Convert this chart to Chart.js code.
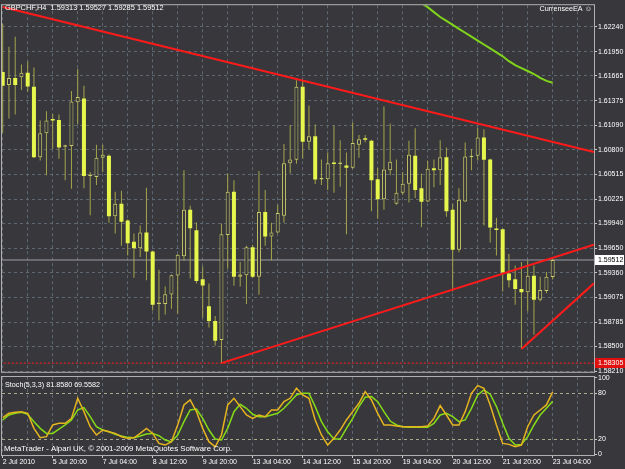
<!DOCTYPE html>
<html><head><meta charset="utf-8">
<script src="https://cdn.jsdelivr.net/npm/chart.js@4.4.0/dist/chart.umd.min.js"></script>
<style>
html,body{margin:0;padding:0;background:#38383c;}
body{width:625px;height:469px;position:relative;overflow:hidden;}
canvas{position:absolute;left:0;}
#main{top:0;}
#stoch{top:366px;}
</style></head><body>
<canvas id="main" width="625" height="377"></canvas>
<canvas id="stoch" width="625" height="103"></canvas>
<script>
const symbol = 'GBPCHF,H4';
const timeLabels = ['2 Jul 2010','5 Jul 20:00','7 Jul 04:00','8 Jul 12:00','9 Jul 20:00','13 Jul 04:00','14 Jul 12:00','15 Jul 20:00','19 Jul 04:00','20 Jul 12:00','21 Jul 20:00','23 Jul 04:00'];
const opens = [1.61711,1.61558,1.61642,1.61650,1.61703,1.61538,1.60714,1.60995,1.61151,1.61151,
1.60837,1.60845,1.61358,1.61400,1.60495,1.60484,1.60707,1.60733,1.60024,1.60170,
1.59974,1.59725,1.59649,1.59833,1.59610,1.58997,1.58997,1.59107,1.59330,1.59555,
1.60101,1.59859,1.59288,1.58971,1.58798,1.58575,1.59805,1.60311,1.59316,1.59334,
1.59661,1.59316,1.60075,1.59787,1.59833,1.60029,1.60645,1.60684,1.61538,1.60894,
1.60960,1.60454,1.60458,1.60645,1.60634,1.60619,1.60592,1.60860,1.60926,1.60906,
1.60458,1.60224,1.60561,1.60170,1.60300,1.60403,1.60733,1.60351,1.60197,1.60584,
1.60561,1.60714,1.60101,1.59633,1.60197,1.60714,1.60733,1.60944,1.60687,1.59879,
1.59871,1.59353,1.59288,1.59173,1.59135,1.59327,1.59046,1.59150,1.59313];
const highs = [1.62278,1.62007,1.62125,1.61800,1.61834,1.61765,1.61144,1.61251,1.61220,1.61213,
1.60860,1.61489,1.61749,1.61550,1.60541,1.60860,1.60860,1.60745,1.60311,1.60323,
1.59986,1.59822,1.59917,1.60357,1.59622,1.59399,1.59201,1.59342,1.59580,1.60561,
1.60147,1.59955,1.59440,1.59238,1.58856,1.59940,1.60523,1.60446,1.59488,1.59679,
1.59690,1.60553,1.60331,1.59948,1.60158,1.60868,1.61090,1.61616,1.61616,1.61320,
1.61098,1.60687,1.60771,1.61086,1.60914,1.60771,1.61124,1.60975,1.60975,1.60918,
1.60592,1.61308,1.61110,1.60687,1.60541,1.60906,1.61052,1.60523,1.60676,1.60687,
1.60914,1.60829,1.60170,1.60351,1.60886,1.60811,1.61059,1.61041,1.60696,1.60006,
1.59880,1.59583,1.59449,1.59488,1.59506,1.59449,1.59316,1.59373,1.59527];
const lows = [1.61001,1.61167,1.61213,1.61501,1.61481,1.60705,1.60676,1.60503,1.60811,1.60696,
1.60446,1.60346,1.61098,1.60351,1.60035,1.60388,1.60541,1.59948,1.59822,1.59679,
1.59564,1.59304,1.59546,1.59276,1.58920,1.58805,1.58874,1.58943,1.58882,1.59503,
1.59296,1.59238,1.58836,1.58721,1.58511,1.58305,1.59411,1.59212,1.59201,1.58997,
1.59300,1.59104,1.59679,1.59506,1.59825,1.59948,1.60523,1.60638,1.60696,1.60811,
1.60400,1.60388,1.60331,1.60300,1.60369,1.59813,1.60581,1.60707,1.60890,1.60081,
1.59994,1.60101,1.60503,1.60158,1.60273,1.60185,1.60236,1.59894,1.60190,1.60362,
1.60388,1.60017,1.59143,1.59603,1.60190,1.60561,1.60676,1.59917,1.59718,1.59564,
1.59143,1.59189,1.58989,1.58471,1.58913,1.58637,1.59028,1.59123,1.59285];
const closes = [1.61550,1.61642,1.61558,1.61703,1.61542,1.60714,1.60995,1.61144,1.61144,1.60829,
1.60845,1.61366,1.61420,1.60495,1.60500,1.60707,1.60742,1.60024,1.60170,1.59960,
1.59707,1.59649,1.59833,1.59610,1.58989,1.59005,1.59112,1.59334,1.59572,1.60101,
1.59882,1.59265,1.59215,1.58798,1.58568,1.59813,1.60311,1.59316,1.59342,1.59661,
1.59316,1.60075,1.59787,1.59833,1.60063,1.60645,1.60687,1.61538,1.60894,1.60960,
1.60454,1.60472,1.60645,1.60634,1.60653,1.60592,1.60880,1.60926,1.60918,1.60446,
1.60224,1.60572,1.60661,1.60300,1.60403,1.60742,1.60331,1.60193,1.60581,1.60561,
1.60714,1.60081,1.59633,1.60216,1.60722,1.60733,1.60944,1.60684,1.59891,1.59863,
1.59365,1.59276,1.59173,1.59135,1.59327,1.59046,1.59161,1.59316,1.59512];
const priceTicks = [1.62240,1.61950,1.61665,1.61375,1.61090,1.60800,1.60515,1.60225,1.59940,1.59650,1.59360,1.59075,1.58785,1.58500,1.58210];
const maBars = [67,68,69,70,71,72,73,74,75,76,77,78,79,80,81,82,83,84,85,86,87,88];
const maValues = [1.62516,1.62470,1.62412,1.62355,1.62309,1.62263,1.62217,1.62171,1.62125,1.62079,1.62033,1.61987,1.61941,1.61895,1.61838,1.61792,1.61757,1.61723,1.61688,1.61642,1.61608,1.61585];
const upperTrendX = [0, 94.6];
const upperTrendY = [1.62472, 1.60775];
const supportX = [35, 94.6];
const supportY = [1.58305, 1.59690];
const shortTrendX = [83, 94.6];
const shortTrendY = [1.58471, 1.59239];
const lowLevel = 1.58305;
const stochK = [48.0,53.7,55.0,55.9,53.7,34.0,21.7,23.1,38.4,40.6,
40.6,47.1,73.4,55.9,36.2,25.3,31.8,29.6,27.4,23.1,
20.9,21.7,27.4,34.0,27.4,14.3,12.1,16.5,38.4,64.7,
71.2,55.9,34.0,16.5,9.9,25.3,64.7,73.4,62.5,51.5,
47.1,51.5,49.3,58.1,58.1,69.0,73.4,86.6,77.8,73.4,
45.0,25.3,12.1,20.9,31.8,45.0,55.9,66.9,82.2,71.2,
53.7,38.4,38.4,37.1,36.2,36.2,36.2,36.2,37.1,47.1,
63.8,51.5,38.4,38.4,55.9,80.0,90.1,86.6,64.7,38.4,
14.3,13.0,9.9,12.1,36.2,51.5,58.1,64.7,81.858];
const stochD = [45.0,51.5,53.7,55.0,52.4,42.8,34.0,27.4,27.4,33.1,
38.4,45.0,58.1,61.2,49.3,36.2,31.8,29.6,26.1,23.9,
22.2,21.7,23.9,26.6,27.4,24.4,18.7,16.5,25.3,42.8,
58.1,59.4,47.1,31.8,20.0,18.7,34.0,55.9,65.5,60.3,
52.4,49.3,49.3,51.5,53.7,60.3,69.0,77.8,80.0,80.0,
62.5,42.8,29.6,20.0,20.0,34.0,47.1,62.5,74.7,75.6,
69.0,55.9,43.6,38.4,36.2,35.3,35.3,35.3,35.3,40.6,
51.5,53.7,49.3,42.8,45.0,60.3,77.8,84.4,78.7,62.5,
40.6,20.9,12.1,13.0,23.1,38.4,51.5,60.3,69.5582];
const stochTicks = [100, 80, 20, 0];
const stochLevels = [80, 20];

// ---- styling / axis setup ----
const BG = '#38383c';
const GRID = '#5d6872';
const FRAME = '#b0b0b0';
const WICK = '#a4a44c';
const OUTLINE = '#cccc6c';
const FILL = '#e6f64c';
const X_MIN = -0.112, X_MAX = 94.61;
const Y_MIN = 1.58204, Y_MAX = 1.62493;
const xTickValues = [];
for (let v = 0; v <= 92; v += 4) xTickValues.push(v);
const bars = opens.map((_, i) => i);
const isUp = bars.map(i => closes[i] >= opens[i]);
const last = bars.length - 1;
const lbl = {family: '"Liberation Sans", Arial, sans-serif', size: 7};
const priceFont = {family: '"Liberation Sans Narrow", "Liberation Sans", sans-serif', size: 7};

function linePts(xs, ys) { return xs.map((x, i) => ({x, y: ys[i]})); }

const framePlugin = {
  id: 'frame',
  afterDraw(chart) {
    const {ctx, chartArea: a} = chart;
    ctx.save();
    ctx.strokeStyle = FRAME; ctx.lineWidth = 1;
    ctx.strokeRect(a.left - 0.5, a.top - 0.5, a.right - a.left + 1, a.bottom - a.top + 1);
    ctx.restore();
  }
};

const mainText = {
  id: 'mainText',
  afterDraw(chart) {
    const {ctx} = chart;
    const y = chart.scales.y;
    ctx.save();
    ctx.textBaseline = 'middle';
    ctx.font = '7.4px "Liberation Sans", Arial, sans-serif';
    ctx.fillStyle = '#ffffff';
    ctx.textAlign = 'left';
    ctx.fillText(symbol + '  ' + [opens[last], highs[last], lows[last], closes[last]].map(v => v.toFixed(5)).join(' '), 5, 8);
    ctx.textAlign = 'right';
    ctx.font = '7.2px "Liberation Sans", "DejaVu Sans", sans-serif';
    ctx.fillText('CurrenseeEA \u263A', 592, 9);
    // bid price box
    const by = Math.round(y.getPixelForValue(closes[last]));
    ctx.fillStyle = '#ffffff';
    ctx.fillRect(595, by - 5, 29, 10);
    ctx.fillStyle = '#000000';
    ctx.textAlign = 'left';
    ctx.font = '7px "Liberation Sans Narrow", "Liberation Sans", sans-serif';
    ctx.fillText(closes[last].toFixed(5), 598, by + 0.5);
    // level box
    const ly = Math.round(y.getPixelForValue(lowLevel));
    ctx.fillStyle = '#e01010';
    ctx.fillRect(595, ly - 5, 30, 10);
    ctx.fillStyle = '#ffffff';
    ctx.fillText(lowLevel.toFixed(5), 598, ly + 0.5);
    ctx.restore();
  }
};

const stochText = {
  id: 'stochText',
  afterDraw(chart) {
    const {ctx} = chart;
    ctx.save();
    ctx.textBaseline = 'middle';
    ctx.font = '7.2px "Liberation Sans", Arial, sans-serif';
    ctx.fillStyle = '#ffffff';
    ctx.fillText('Stoch(5,3,3) ' + stochK[last].toFixed(4) + ' ' + stochD[last].toFixed(4), 5, 19);
    ctx.font = '7.8px "Liberation Sans", Arial, sans-serif';
    ctx.fillText('MetaTrader - Alpari UK, \u00A9 2001-2009 MetaQuotes Software Corp.', 4, 83);
    ctx.restore();
  }
};

new Chart(document.getElementById('main'), {
  type: 'bar',
  data: {
    datasets: [
      {type: 'line', data: linePts(upperTrendX, upperTrendY), borderColor: '#ff1a1a', borderWidth: 2, pointRadius: 0, tension: 0, order: 0},
      {type: 'line', data: linePts(supportX, supportY), borderColor: '#ff1a1a', borderWidth: 2, pointRadius: 0, tension: 0, order: 0},
      {type: 'line', data: linePts(shortTrendX, shortTrendY), borderColor: '#ff1a1a', borderWidth: 2, pointRadius: 0, tension: 0, order: 0},
      {type: 'line', data: maBars.map((b, i) => ({x: b, y: maValues[i]})), borderColor: '#80d41c', borderWidth: 2, pointRadius: 0, tension: 0, order: 1},
      {type: 'line', data: linePts([X_MIN - 1, X_MAX + 1], [lowLevel, lowLevel]), borderColor: '#ff2020', borderWidth: 1, borderDash: [2, 2], pointRadius: 0, order: 1},
      {type: 'bar', data: bars.map(i => ({x: i, y: [opens[i], closes[i]]})), grouped: false, barThickness: 4,
        backgroundColor: bars.map(i => isUp[i] ? BG : FILL),
        borderColor: bars.map(i => isUp[i] ? OUTLINE : FILL),
        borderWidth: bars.map(i => isUp[i] ? 1 : 0),
        borderSkipped: false, inflateAmount: 0, minBarLength: 1.5, order: 2},
      {type: 'bar', data: bars.map(i => ({x: i, y: [lows[i], highs[i]]})), grouped: false, barThickness: 1,
        backgroundColor: WICK, borderWidth: 0, inflateAmount: 0, order: 3},
      {type: 'line', data: linePts([X_MIN - 1, X_MAX + 1], [closes[last], closes[last]]), borderColor: '#9c9ca4', borderWidth: 1, pointRadius: 0, order: 4}
    ]
  },
  options: {
    responsive: false, animation: false, devicePixelRatio: 1,
    layout: {padding: {left: 2, top: 2, right: 0, bottom: 2}},
    plugins: {legend: {display: false}, tooltip: {enabled: false}},
    scales: {
      x: {type: 'linear', min: X_MIN, max: X_MAX, offset: false,
        afterBuildTicks: s => { s.ticks = xTickValues.map(v => ({value: v})); },
        afterFit: s => { s.height = 0; },
        ticks: {display: false},
        grid: {color: GRID, lineWidth: 1, drawTicks: false, offset: false},
        border: {display: false, dash: [3, 3]}},
      y: {type: 'linear', position: 'right', min: Y_MIN, max: Y_MAX,
        afterBuildTicks: s => { s.ticks = priceTicks.map(v => ({value: v})); },
        afterFit: s => { s.width = 31; },
        ticks: {color: '#ffffff', font: priceFont, padding: 1, autoSkip: false, callback: v => v.toFixed(5)},
        grid: {color: GRID, lineWidth: 1, tickLength: 3, tickColor: '#c8c8c8'},
        border: {display: true, color: FRAME, dash: [3, 3]}}
    }
  },
  plugins: [framePlugin, mainText]
});

new Chart(document.getElementById('stoch'), {
  type: 'line',
  data: {
    datasets: [
      {data: bars.map(i => ({x: i, y: stochK[i]})), borderColor: '#e6b41e', borderWidth: 1.5, pointRadius: 0, tension: 0},
      {data: bars.map(i => ({x: i, y: stochD[i]})), borderColor: '#84dc16', borderWidth: 1.5, pointRadius: 0, tension: 0}
    ]
  },
  options: {
    responsive: false, animation: false, devicePixelRatio: 1,
    layout: {padding: {left: 2, top: 11, right: 0, bottom: 0}},
    plugins: {legend: {display: false}, tooltip: {enabled: false}},
    scales: {
      x: {type: 'linear', min: X_MIN, max: X_MAX, offset: false,
        afterBuildTicks: s => { s.ticks = xTickValues.map(v => ({value: v})); },
        afterFit: s => { s.height = 14; },
        ticks: {color: '#ffffff', font: lbl, align: 'start', padding: 0, autoSkip: false, maxRotation: 0,
          callback: v => (v % 8 === 0 && timeLabels[v / 8]) ? timeLabels[v / 8] : ''},
        grid: {color: GRID, lineWidth: 1, tickLength: 3,
          tickColor: c => (c.tick && c.tick.value % 8 === 0) ? '#c8c8c8' : 'rgba(0,0,0,0)'},
        border: {display: true, color: FRAME, dash: [3, 3]}},
      y: {type: 'linear', position: 'right', min: -0.92, max: 101.31,
        afterBuildTicks: s => { s.ticks = stochTicks.map(v => ({value: v})); },
        afterFit: s => { s.width = 31; },
        ticks: {color: '#ffffff', font: priceFont, padding: 1, autoSkip: false},
        grid: {color: c => (c.tick && stochLevels.includes(c.tick.value)) ? '#a9a98c' : 'rgba(0,0,0,0)', tickLength: 3, tickColor: '#c8c8c8'},
        border: {display: true, color: FRAME, dash: [3, 3]}}
    }
  },
  plugins: [framePlugin, stochText]
});
</script>
</body></html>
